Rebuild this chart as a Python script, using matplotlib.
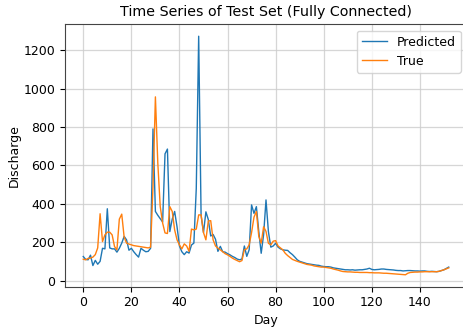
import matplotlib
matplotlib.use("Agg")
import matplotlib.pyplot as plt
import numpy as np

days = list(range(153))

predicted = [
    125, 110, 108, 132, 78, 105, 85, 100, 168, 165,
    374, 170, 165, 165, 148, 168, 195, 230, 212, 158,
    168, 150, 135, 122, 168, 158, 150, 152, 168, 790,
    360, 340, 322, 305, 660, 685, 255, 320, 360, 280,
    180, 150, 135, 150, 143, 185, 195, 480, 1273, 340,
    250, 358, 318, 232, 240, 215, 152, 178, 150, 148,
    140, 134, 126, 120, 112, 108, 112, 180, 126, 160,
    394, 350, 385, 255, 142, 238, 420, 255, 174, 180,
    194, 174, 165, 160, 158, 157, 145, 135, 122, 108,
    100, 96, 92, 88, 86, 84, 82, 80, 79, 75,
    73, 72, 72, 70, 66, 64, 62, 60, 58, 56,
    56, 55, 56, 54, 55, 56, 56, 58, 60, 64,
    58, 56, 57, 58, 60, 60, 58, 57, 56, 55,
    53, 52, 52, 50, 51, 52, 52, 51, 50, 50,
    49, 50, 50, 48, 47, 48, 47, 46, 48, 52,
    56, 63, 70,
]

true_vals = [
    111, 108, 115, 117, 122, 135, 170, 348, 203, 238,
    252, 252, 238, 177, 160, 320, 346, 226, 195, 190,
    186, 182, 180, 178, 176, 174, 172, 170, 174, 490,
    957, 612, 386, 300, 248, 245, 385, 360, 264, 212,
    186, 165, 191, 180, 152, 268, 264, 268, 342, 342,
    250, 212, 310, 312, 212, 180, 169, 160, 150, 140,
    134, 126, 117, 110, 104, 98, 104, 160, 165, 186,
    250, 330, 360, 230, 195, 280, 256, 194, 186, 205,
    208, 180, 170, 160, 142, 130, 120, 110, 105, 100,
    96, 92, 88, 84, 82, 80, 76, 74, 72, 70,
    70, 68, 66, 64, 60, 57, 54, 50, 47, 46,
    45, 45, 44, 43, 43, 42, 42, 42, 42, 41,
    41, 40, 40, 40, 39, 38, 38, 37, 36, 35,
    34, 33, 32, 31, 30, 38, 42, 43, 44, 44,
    45, 45, 46, 46, 46, 46, 46, 46, 48, 52,
    56, 61, 66,
]

W, H = 463, 329
fig = plt.figure(figsize=(W / 100, H / 100), dpi=100)
left, right, top, bottom = 65, 467, 24.3, 286.7
ax = fig.add_axes([left / W, (H - bottom) / H, (right - left) / W, (bottom - top) / H])

ax.plot(days, predicted, color="#1f77b4", linewidth=1.0, label="Predicted")
ax.plot(days, true_vals, color="#ff7f0e", linewidth=1.0, label="True")

ax.set_title("Time Series of Test Set (Fully Connected)", fontsize=10.3)
ax.set_xlabel("Day", fontsize=9, labelpad=3)
ax.set_ylabel("Discharge", fontsize=9, labelpad=2)
ax.tick_params(labelsize=9)
for s in ax.spines.values():
    s.set_color("#444444")
ax.set_xticks([0, 20, 40, 60, 80, 100, 120, 140])
ax.set_yticks([0, 200, 400, 600, 800, 1000, 1200])
ax.grid(True, color="#cccccc", linewidth=0.9, alpha=0.8)
ax.legend(loc="upper right", fontsize=9)

fig.savefig("out.png", dpi=100)
